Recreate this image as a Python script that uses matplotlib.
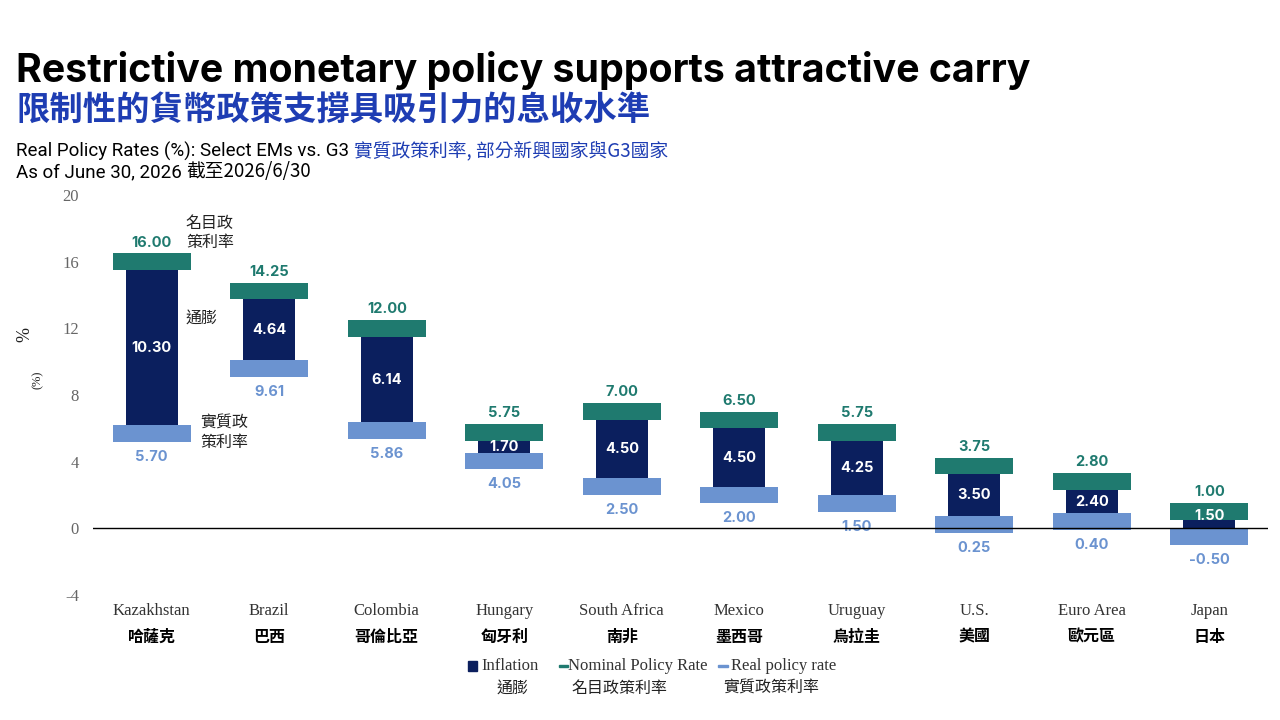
import numpy as np
import matplotlib.pyplot as plt
from matplotlib.patches import Rectangle

countries_en = ['Kazakhstan', 'Brazil', 'Colombia', 'Hungary', 'South Africa',
                'Mexico', 'Uruguay', 'U.S.', 'Euro Area', 'Japan']
countries_zh = ['哈薩克', '巴西', '哥倫比亞', '匈牙利', '南非',
                '墨西哥', '烏拉圭', '美國', '歐元區', '日本']
nominal = [16.00, 14.25, 12.00, 5.75, 7.00, 6.50, 5.75, 3.75, 2.80, 1.00]
real = [5.70, 9.61, 5.86, 4.05, 2.50, 2.00, 1.50, 0.25, 0.40, -0.50]
inflation = [10.30, 4.64, 6.14, 1.70, 4.50, 4.50, 4.25, 3.50, 2.40, 1.50]
yticks = [-4, 0, 4, 8, 12, 16, 20]

NAVY = '#0b1f5e'
TEAL = '#1f7a6f'
LIGHT = '#6b93d0'
ZH_BLUE = '#1e3db3'
SERIF = 'Liberation Serif'
CJK = 'Noto Sans CJK TC'
NUM = 'Inter'

fig = plt.figure(figsize=(12.8, 7.2), dpi=100)
ax = fig.add_axes([93 / 1280, 125 / 720, 1175 / 1280, 400 / 720])

x = np.arange(len(countries_en))
nominal = np.array(nominal)
real = np.array(real)
inflation = np.array(inflation)

# inflation bar stacked on top of real rate (from 0 when real is negative)
base = np.maximum(real, 0)
ax.bar(x, inflation, bottom=base, width=0.44, color=NAVY, zorder=2)
# nominal and real markers, thickness of one unit
ax.bar(x, 1.0, bottom=nominal - 0.5, width=0.66, color=TEAL, zorder=3)
ax.bar(x, 1.0, bottom=real - 0.5, width=0.66, color=LIGHT, zorder=3)
ax.axhline(0, color='black', lw=1, zorder=4)

for i in range(len(x)):
    ax.text(x[i], nominal[i] + 1.15, f'{nominal[i]:.2f}', ha='center', va='center',
            color=TEAL, fontsize=10.5, fontweight='bold', family=NUM, zorder=5)
    ax.text(x[i], real[i] - 1.4, f'{real[i]:.2f}', ha='center', va='center',
            color=LIGHT, fontsize=10.5, fontweight='bold', family=NUM, zorder=3.5)
    ax.text(x[i], base[i] + inflation[i] / 2, f'{inflation[i]:.2f}', ha='center',
            va='center', color='white', fontsize=10.5, fontweight='bold',
            family=NUM, zorder=5)

ax.set_xlim(-0.5, len(x) - 0.5)
ax.set_ylim(-4, 20)
ax.set_yticks(yticks)
ax.set_yticklabels([str(t) for t in yticks], family=SERIF, fontsize=12, color='#666666')
ax.tick_params(axis='y', length=0, pad=10)
ax.set_xticks([])
for s in ax.spines.values():
    s.set_visible(False)

# category labels
for i in range(len(x)):
    ax.text(x[i], -4.95, countries_en[i], ha='center', va='center',
            family=SERIF, fontsize=12, color='#333333')
    ax.text(x[i], -6.5, countries_zh[i], ha='center', va='center',
            family=CJK, fontsize=11.5, fontweight='bold', color='black')

# annotations on the first bar
ax.text(0.29, 17.7, '名目政\n策利率', ha='left', va='center', family=CJK,
        fontsize=11.5, linespacing=1.15, color='#222222')
ax.text(0.29, 12.6, '通膨', ha='left', va='center', family=CJK,
        fontsize=11.5, color='#222222')
ax.text(0.41, 5.72, '實質政\n策利率', ha='left', va='center', family=CJK,
        fontsize=11.5, linespacing=1.15, color='#222222')

# y labels
fig.text(25 / 1280, 1 - 335 / 720, '%', rotation=90, ha='center', va='center',
         family=SERIF, fontsize=13, color='#222222')
fig.text(38 / 1280, 1 - 380 / 720, '(%)', rotation=90, ha='center', va='center',
         family=SERIF, fontsize=9, color='#222222')

# titles
fig.text(16 / 1280, 1 - 71 / 720, 'Restrictive monetary policy supports attractive carry',
         ha='left', va='center', family=NUM, fontweight='bold', fontsize=28.3, color='black')
fig.text(16 / 1280, 1 - 111 / 720, '限制性的貨幣政策支撐具吸引力的息收水準',
         ha='left', va='center', family=CJK, fontweight='bold', fontsize=24, color=ZH_BLUE)

renderer = fig.canvas.get_renderer()
t1 = fig.text(16 / 1280, 1 - 151 / 720, 'Real Policy Rates (%): Select EMs vs. G3 ',
              ha='left', va='center', family='Roboto', fontsize=13.5, color='black')
bb = t1.get_window_extent(renderer)
fig.text(bb.x1 / 1280, 1 - 151 / 720, '實質政策利率, 部分新興國家與G3國家',
         ha='left', va='center', family=CJK, fontsize=13.5, color=ZH_BLUE)
t2 = fig.text(16 / 1280, 1 - 172 / 720, 'As of June 30, 2026 ',
              ha='left', va='center', family='Roboto', fontsize=13.5, color='black')
bb = t2.get_window_extent(renderer)
fig.text(bb.x1 / 1280, 1 - 172 / 720, '截至2026/6/30', ha='left', va='center',
         family=[CJK, 'DejaVu Sans'], fontsize=13.5, color='black')

# legend
def ftr(px, py):
    return px / 1280, 1 - py / 720

fig.add_artist(Rectangle(ftr(468, 671), 9 / 1280, 10 / 720, color=NAVY,
                         transform=fig.transFigure))
fig.text(*ftr(481, 666), 'Inflation', ha='left', va='center', family=SERIF,
         fontsize=12, color='#333333')
fig.text(*ftr(513, 688), '通膨', ha='center', va='center', family=CJK,
         fontsize=11.5, color='#222222')
fig.add_artist(Rectangle(ftr(559, 667), 9 / 1280, 2.5 / 720, color=TEAL,
                         transform=fig.transFigure))
fig.text(*ftr(568, 666), 'Nominal Policy Rate', ha='left', va='center', family=SERIF,
         fontsize=12, color='#333333')
fig.text(*ftr(619, 688), '名目政策利率', ha='center', va='center', family=CJK,
         fontsize=11.5, color='#222222')
fig.add_artist(Rectangle(ftr(718, 667), 10 / 1280, 2.5 / 720, color=LIGHT,
                         transform=fig.transFigure))
fig.text(*ftr(731, 666), 'Real policy rate', ha='left', va='center', family=SERIF,
         fontsize=12, color='#333333')
fig.text(*ftr(771, 688), '實質政策利率', ha='center', va='center', family=CJK,
         fontsize=11.5, color='#222222')

fig.savefig('out.png', dpi=100)
